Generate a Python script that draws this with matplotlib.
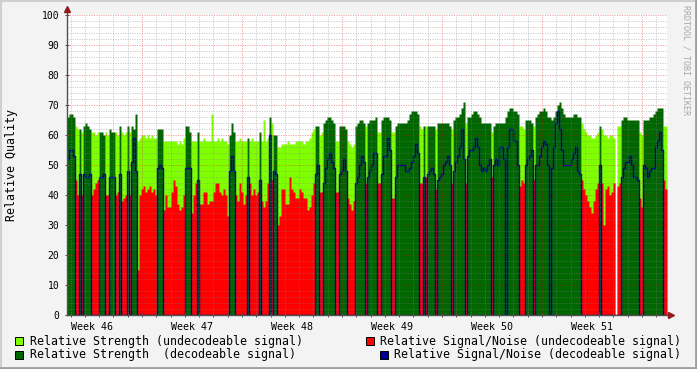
import numpy as np
import matplotlib.pyplot as plt
from matplotlib.lines import Line2D
from matplotlib.patches import Rectangle

# one sample every 7/50 day (2 px), six weeks = 300 samples
# U = undecodeable, D = decodeable, G = no data
state = ("DDDDUUDUDDDDUUUUDDDUUDDDUUDUUUDUDDDUUUUUUUUUUDDDUU"
         "UUUUUUUUUDDDUUUDUUUUUUUUUUUUUUUDDDUUUUUUDUUUUUDUUU"
         "UDUDDUUUUUUUUUUUUUUUUUUUDDUUDDDDDDUUDDDDUUUUDDDDDU"
         "DDDDDUUDDDDDUUDDDDDDDDDDDDUUDUDDDDUDDDDDDDUDDDDDDU"
         "DDDDDDDDDDDDUDDDDDDDDDDDDDUUUDDDDUDDDDDDDDDDDDDDDD"
         "DDDDDDDUUUUUUUUUDUUUUUUUGUUDDDDDDDDDUUDDDDDDDDDDUU")

strength_vals = [
    66, 67, 67, 66, 63, 62, 62, 61, 63, 64, 63, 62, 61, 61, 60, 61, 61, 61, 60, 61,
    60, 62, 61, 61, 61, 60, 63, 61, 60, 61, 63, 61, 63, 62, 67, 58, 59, 60, 60, 59,
    60, 59, 60, 59, 59, 62, 62, 62, 58, 58,
    58, 58, 58, 58, 58, 57, 58, 57, 59, 63, 63, 61, 58, 58, 58, 61, 58, 58, 59, 58,
    58, 58, 67, 58, 58, 59, 58, 59, 58, 58, 57, 60, 64, 61, 58, 58, 59, 58, 58, 58,
    59, 58, 59, 58, 58, 58, 61, 58, 65, 58,
    59, 66, 64, 60, 60, 56, 56, 57, 57, 57, 58, 57, 57, 57, 58, 58, 58, 58, 57, 58,
    58, 59, 61, 62, 63, 63, 60, 61, 64, 65, 66, 66, 65, 64, 58, 58, 63, 63, 63, 62,
    58, 57, 56, 57, 63, 64, 65, 65, 64, 63,
    64, 65, 65, 65, 66, 61, 61, 65, 66, 66, 66, 65, 61, 61, 63, 64, 64, 64, 64, 64,
    65, 67, 68, 68, 68, 67, 63, 62, 63, 63, 63, 63, 63, 63, 62, 64, 64, 64, 64, 64,
    64, 63, 62, 65, 66, 66, 67, 69, 71, 64,
    66, 66, 67, 68, 68, 67, 66, 64, 64, 64, 64, 64, 61, 63, 64, 64, 64, 64, 64, 66,
    68, 69, 69, 68, 68, 67, 63, 63, 62, 65, 65, 65, 64, 63, 66, 67, 68, 68, 69, 68,
    66, 66, 65, 66, 68, 70, 71, 69, 67, 66,
    66, 66, 66, 67, 67, 66, 66, 64, 62, 61, 60, 60, 59, 59, 60, 61, 63, 62, 60, 60,
    59, 60, 60, 59, 0, 63, 63, 65, 66, 66, 65, 65, 65, 65, 65, 65, 61, 60, 65, 65,
    65, 66, 66, 67, 68, 69, 69, 69, 63, 63,
]

snr_vals = [
    52, 55, 55, 53, 45, 40, 47, 40, 47, 46, 46, 47, 40, 42, 44, 45, 46, 46, 47, 40,
    40, 46, 46, 46, 40, 41, 47, 38, 39, 40, 48, 40, 51, 59, 48, 15, 40, 42, 43, 41,
    42, 43, 41, 42, 40, 49, 50, 49, 35, 40,
    36, 36, 41, 45, 43, 37, 35, 36, 40, 49, 49, 49, 34, 40, 44, 45, 37, 37, 41, 41,
    37, 38, 38, 41, 44, 44, 41, 40, 42, 40, 33, 48, 53, 48, 40, 38, 44, 41, 37, 40,
    46, 44, 40, 42, 40, 41, 45, 38, 36, 38,
    44, 60, 45, 48, 47, 30, 33, 42, 42, 37, 37, 46, 42, 41, 39, 39, 42, 41, 39, 39,
    35, 36, 40, 44, 47, 50, 41, 41, 44, 49, 52, 54, 51, 49, 41, 41, 47, 48, 52, 48,
    39, 37, 35, 38, 44, 46, 50, 53, 51, 44,
    46, 48, 50, 54, 54, 44, 44, 47, 53, 53, 59, 55, 39, 39, 46, 50, 50, 50, 50, 48,
    48, 49, 51, 53, 57, 54, 44, 44, 46, 46, 47, 48, 49, 47, 42, 45, 46, 47, 50, 51,
    53, 50, 44, 48, 51, 53, 56, 62, 52, 44,
    53, 55, 55, 56, 59, 56, 50, 48, 49, 48, 50, 52, 46, 50, 52, 50, 56, 56, 52, 0,
    56, 62, 62, 58, 58, 50, 43, 45, 44, 50, 52, 53, 55, 45, 50, 50, 53, 56, 58, 57,
    50, 0, 49, 56, 64, 68, 62, 55, 50, 50,
    50, 50, 52, 54, 56, 48, 47, 45, 42, 40, 38, 36, 34, 38, 42, 44, 50, 44, 30, 42,
    43, 40, 41, 44, 0, 43, 44, 46, 49, 51, 51, 53, 50, 46, 46, 45, 39, 36, 50, 49,
    46, 48, 49, 49, 56, 58, 61, 55, 45, 42,
]

week_labels = ["Week 46", "Week 47", "Week 48", "Week 49", "Week 50", "Week 51"]

LIGHT = "#80FF00"
RED = "#FF0000"
DARK = "#006600"
BLUE = "#000099"
MONO = "DejaVu Sans Mono"

W, H = 697, 369
fig = plt.figure(figsize=(W / 100, H / 100), dpi=100)
fig.patch.set_facecolor("#F3F3F3")
ax = fig.add_axes([67 / W, 54 / H, 600 / W, 300 / H])
ax.set_facecolor("white")

n = len(state)
step = 7 / 50
t = np.arange(n + 1) * step
is_u = np.array([s == "U" for s in state])
is_d = np.array([s == "D" for s in state])
strength = np.array(strength_vals, float)
snr = np.array(snr_vals, float)


def ext(a):
    return np.append(a, a[-1])


ax.fill_between(t, 0, ext(np.where(is_u, strength, 0)), step="post", color=LIGHT, lw=0, zorder=1)
ax.fill_between(t, 0, ext(np.where(is_u, snr, 0)), step="post", color=RED, lw=0, zorder=1.1)
ax.fill_between(t, 0, ext(np.where(is_d, strength, 0)), step="post", color=DARK, lw=0, zorder=1.2)
ax.step(t, ext(np.where(is_d, snr, 0)), where="post", color=BLUE, lw=1.0, zorder=1.3)

ax.set_xlim(0, 42)
ax.set_ylim(0, 100)

# grid drawn on top of the data, like rrdtool does
dots = (0, (1, 1.4))
for y in range(0, 101, 2):
    if y % 10:
        ax.axhline(y, color="#808080", alpha=0.45, lw=0.72, ls=dots, zorder=3)
    elif y:
        ax.axhline(y, color="#E00000", alpha=0.4, lw=0.72, ls=dots, zorder=3)
for d in np.arange(0.25, 42, 1.0):
    if abs((d - 5.25) % 7) < 1e-6:
        ax.axvline(d, color="#E00000", alpha=0.4, lw=0.72, ls=dots, zorder=3)
    else:
        ax.axvline(d, color="#808080", alpha=0.45, lw=0.72, ls=dots, zorder=3)

for s in ax.spines.values():
    s.set_visible(False)

AXC = "#505050"
ax.add_line(Line2D([0, 0], [0, 1.013], transform=ax.transAxes, color=AXC, lw=1, clip_on=False, zorder=4))
ax.add_line(Line2D([0, 1.003], [0, 0], transform=ax.transAxes, color=AXC, lw=1, clip_on=False, zorder=4))
ax.plot([0], [1.02], marker="^", ms=4, color="#8E1C1C", transform=ax.transAxes, clip_on=False, zorder=5)
ax.plot([1.006], [0], marker=">", ms=4, color="#8E1C1C", transform=ax.transAxes, clip_on=False, zorder=5)

ax.set_yticks(range(0, 101, 10))
ax.set_yticklabels([str(v) for v in range(0, 101, 10)], fontsize=7, family=MONO)
ax.tick_params(axis="y", direction="inout", length=3, width=0.7, color=AXC, pad=4)
ax.set_xticks([1.75 + 7 * k for k in range(len(week_labels))])
ax.set_xticklabels(week_labels, fontsize=7.2, family=MONO)
ax.tick_params(axis="x", length=0, pad=5)
ax.set_xticks(np.arange(0.25, 42, 1.0), minor=True)
ax.tick_params(axis="x", which="minor", direction="inout", length=2.5, width=0.7, color=AXC)

fig.text(12 / W, 1 - 165 / H, "Relative Quality", rotation=90, ha="center", va="center",
         fontsize=8.4, family=MONO)
fig.text(686 / W, 1 - 60 / H, "RRDTOOL / TOBI OETIKER", rotation=270, ha="center", va="center",
         fontsize=6, family=MONO, color="#A8A8A8")

legend = [
    (15, 341, LIGHT, "Relative Strength (undecodeable signal)"),
    (366, 341, RED, "Relative Signal/Noise (undecodeable signal)"),
    (15, 354.5, DARK, "Relative Strength  (decodeable signal)"),
    (380, 354.5, BLUE, "Relative Signal/Noise (decodeable signal)"),
]
for x0, yc, col, label in legend:
    fig.patches.append(Rectangle((x0 / W, 1 - (yc + 4) / H), 8 / W, 8 / H, transform=fig.transFigure,
                                 facecolor=col, edgecolor="black", lw=0.7))
    fig.text((x0 + 14.5) / W, 1 - yc / H, label, ha="left", va="center", fontsize=8.4, family=MONO)

# 3d frame
fig.add_artist(Line2D([0, 1], [1 - 1 / H, 1 - 1 / H], color="#CFCFCF", lw=1.5))
fig.add_artist(Line2D([1 / W, 1 / W], [0, 1], color="#CFCFCF", lw=1.5))
fig.add_artist(Line2D([0, 1], [1.5 / H, 1.5 / H], color="#9E9E9E", lw=2))
fig.add_artist(Line2D([1 - 1.5 / W, 1 - 1.5 / W], [0, 1], color="#9E9E9E", lw=2))

fig.savefig("out.png", dpi=100, facecolor=fig.get_facecolor())
